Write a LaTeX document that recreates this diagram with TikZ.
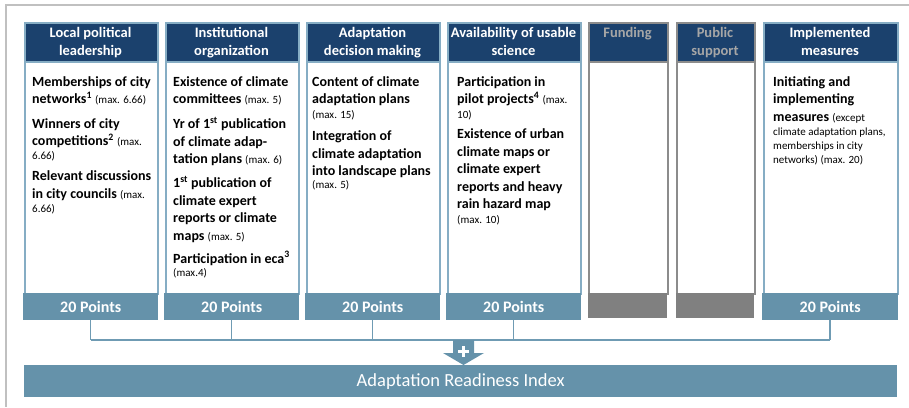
\documentclass[tikz,border=0pt]{standalone}
\usepackage{fontspec}
\setmainfont{Carlito}
\definecolor{hdrnavy}{HTML}{1B416D}
\definecolor{bordc}{HTML}{86ADC4}
\definecolor{ptsc}{HTML}{6592AA}
\definecolor{grayfill}{HTML}{808080}
\definecolor{graybord}{HTML}{8C8C8C}
\definecolor{grayhdrtxt}{HTML}{A6A6A6}
\definecolor{framec}{HTML}{C0C0C0}
\definecolor{connc}{HTML}{6F9BB3}
\newcommand\smalltxt[1]{{\fontsize{11}{14}\selectfont\mdseries #1}}
\newcommand\firststrut{\rule{0pt}{12pt}}
\begin{document}
\begin{tikzpicture}[x=1pt,y=-1pt,
  hdrbox/.style={fill=hdrnavy, draw=#1, line width=1.5pt, minimum height=39pt, inner sep=0pt, anchor=north west},
  bodybox/.style={draw=#1, line width=1.5pt, fill=white, minimum height=232pt, inner sep=0pt, anchor=north west},
  ptsbox/.style={fill=#1, minimum height=27pt, inner sep=0pt, anchor=north west, text=white, font=\fontsize{16}{18}\selectfont\bfseries},
  hdrtext/.style={anchor=north, align=center, inner sep=0pt, text=white, font=\fontsize{14.5}{18}\selectfont\bfseries},
  bodytext/.style={anchor=north west, align=left, inner sep=0pt, font=\fontsize{14}{17.5}\selectfont\bfseries},
  conn/.style={draw=connc, line width=1.5pt}]
\useasboundingbox (0,0) rectangle (909,407);
% outer frame
\draw[framec, line width=1.2pt] (909,5) -- (6,5) -- (6,407);

% column 1
\node[bodybox=bordc, minimum width=133pt] (b1) at (24,61) {};
\node[hdrbox=bordc, minimum width=133pt] (h1) at (24,22) {};
\node[ptsbox=ptsc, minimum width=135pt] (p1) at (23,293) {20 Points};
\node[hdrtext] (t1) at (90.5,25) {\firststrut Local political\\leadership};
\node[bodytext] (x1) at (32,74) {\firststrut Memberships of city\\
networks\textsuperscript{1} \smalltxt{(max. 6.66)}\\[7pt]
Winners of city\\
competitions\textsuperscript{2} \smalltxt{(max.}\\[-3.5pt]
\smalltxt{6.66)}\\[3.5pt]
Relevant discussions\\
in city councils \smalltxt{(max.}\\[-3.5pt]
\smalltxt{6.66)}};

% column 2
\node[bodybox=bordc, minimum width=133pt] (b2) at (165,61) {};
\node[hdrbox=bordc, minimum width=133pt] (h2) at (165,22) {};
\node[ptsbox=ptsc, minimum width=135pt] (p2) at (164,293) {20 Points};
\node[hdrtext] (t2) at (231.5,25) {\firststrut Institutional\\organization};
\node[bodytext] (x2) at (173,74) {\firststrut Existence of climate\\
committees \smalltxt{(max. 5)}\\[7.5pt]
Yr of 1\textsuperscript{st} publication\\
of climate adap-\\
tation plans \smalltxt{(max. 6)}\\[6.5pt]
1\textsuperscript{st} publication of\\
climate expert\\
reports or climate\\
maps \smalltxt{(max. 5)}\\[5.5pt]
Participation in eca\textsuperscript{3}\\[-4.5pt]
\smalltxt{(max.4)}};

% column 3
\node[bodybox=bordc, minimum width=133pt] (b3) at (306,61) {};
\node[hdrbox=bordc, minimum width=133pt] (h3) at (306,22) {};
\node[ptsbox=ptsc, minimum width=135pt] (p3) at (305,293) {20 Points};
\node[hdrtext] (t3) at (372.5,25) {\firststrut Adaptation\\decision making};
\node[bodytext] (x3) at (312,74) {\firststrut Content of climate\\
adaptation plans\\[-2.5pt]
\smalltxt{(max. 15)}\\[4.5pt]
Integration of\\
climate adaptation\\
into landscape plans\\[-4.5pt]
\smalltxt{(max. 5)}};

% column 4
\node[bodybox=bordc, minimum width=133pt] (b4) at (447,61) {};
\node[hdrbox=bordc, minimum width=133pt] (h4) at (447,22) {};
\node[ptsbox=ptsc, minimum width=135pt] (p4) at (446,293) {20 Points};
\node[hdrtext] (t4) at (513.5,25) {\firststrut Availability of usable\\science};
\node[bodytext] (x4) at (457,74) {\firststrut Participation in\\
pilot projects\textsuperscript{4} \smalltxt{(max.}\\[-2.5pt]
\smalltxt{10)}\\[2.5pt]
Existence of urban\\
climate maps or\\
climate expert\\
reports and heavy\\
rain hazard map\\[-2.5pt]
\smalltxt{(max. 10)}};

% column 5 (Funding)
\node[bodybox=graybord, minimum width=79pt] (b5) at (588,61) {};
\node[hdrbox=graybord, minimum width=79pt] (h5) at (588,22) {};
\node[ptsbox=grayfill, minimum width=79pt, minimum height=25pt] (p5) at (588,293) {};
\node[hdrtext, text=grayhdrtxt] (t5) at (627.5,25) {\firststrut Funding};

% column 6 (Public support)
\node[bodybox=graybord, minimum width=78pt] (b6) at (676,61) {};
\node[hdrbox=graybord, minimum width=78pt] (h6) at (676,22) {};
\node[ptsbox=grayfill, minimum width=78pt, minimum height=25pt] (p6) at (676,293) {};
\node[hdrtext, text=grayhdrtxt] (t6) at (715,25) {\firststrut Public\\support};

% column 7
\node[bodybox=bordc, minimum width=134pt] (b7) at (763,61) {};
\node[hdrbox=bordc, minimum width=134pt] (h7) at (763,22) {};
\node[ptsbox=ptsc, minimum width=136pt] (p7) at (762,293) {20 Points};
\node[hdrtext] (t7) at (830,25) {\firststrut Implemented\\measures};
\node[bodytext] (x7) at (773,74) {\firststrut Initiating and\\
implementing\\[0.5pt]
measures \smalltxt{(except}\\[-3.5pt]
\smalltxt{climate adaptation plans,}\\[-3.5pt]
\smalltxt{memberships in city}\\[-3.5pt]
\smalltxt{networks) (max. 20)}};

% index bar
\node[fill=ptsc, minimum width=873pt, minimum height=32pt, inner sep=0pt, anchor=north west,
  text=white, font=\fontsize{18.5}{20}\selectfont] (idx) at (24,365) {Adaptation Readiness Index};

% connectors
\coordinate (bus) at (0,340);
\coordinate (j1) at (p1.south |- bus);
\coordinate (j2) at (p2.south |- bus);
\coordinate (j3) at (p3.south |- bus);
\coordinate (j4) at (p4.south |- bus);
\coordinate (j7) at (p7.south |- bus);
\draw[conn] (p1.south) -- (j1);
\draw[conn] (p2.south) -- (j2);
\draw[conn] (p3.south) -- (j3);
\draw[conn] (p4.south) -- (j4);
\draw[conn] (p7.south) -- (j7);
\draw[conn] (j1) -- (j7);

% block arrow with plus
\fill[ptsc] (453,340) -- (474,340) -- (474,353) -- (484,353) -- (463.5,365) -- (443,353) -- (453,353) -- cycle;
\draw[white, line width=3pt] (458,351.5) -- (469,351.5);
\draw[white, line width=3pt] (463.5,346) -- (463.5,357);
\end{tikzpicture}
\end{document}
